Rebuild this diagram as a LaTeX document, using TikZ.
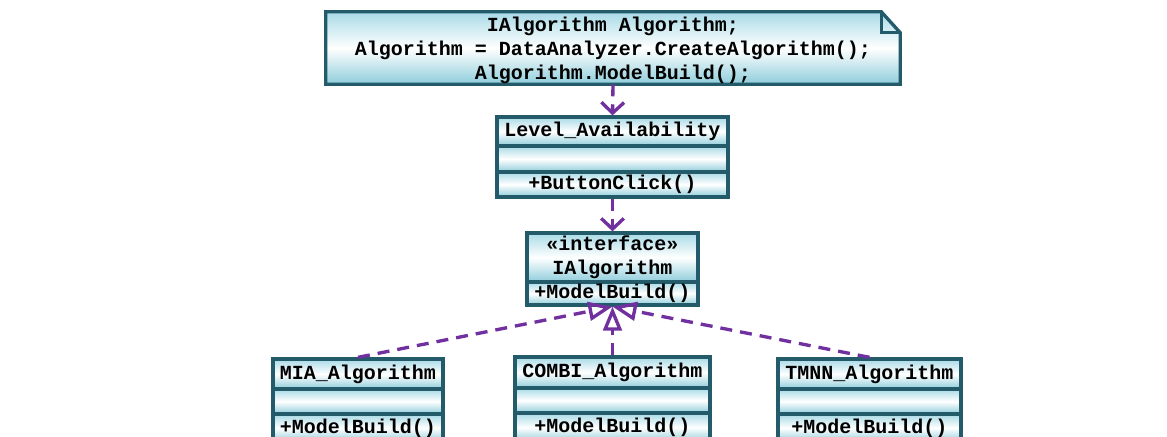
\documentclass[tikz,border=0pt]{standalone}
\usepackage{fontspec}
\setmonofont{Liberation Mono}
\usetikzlibrary{arrows.meta,backgrounds}
\definecolor{bordc}{HTML}{235B6B}
\definecolor{ctop}{HTML}{A8DAE6}
\definecolor{cbot}{HTML}{8ECDDB}
\definecolor{arrc}{HTML}{7030A0}
\tikzset{
  umltext/.style={font=\ttfamily\bfseries\fontsize{15}{18}\selectfont, text=black},
  cmp/.style={umltext, draw=bordc, line width=2.5pt, inner sep=0pt,
    top color=ctop, bottom color=cbot, middle color=white},
  dep/.style={draw=arrc, line width=2.5pt, dash pattern=on 9pt off 6pt,
    -{Straight Barb[length=8pt,width=17pt]}},
  real/.style={draw=arrc, line width=2.5pt, dash pattern=on 9pt off 6pt,
    -{Triangle[open,length=18pt,width=14pt]}}
}
\begin{document}
\begin{tikzpicture}[x=0.75pt,y=-0.75pt]
\useasboundingbox (0,0) rectangle (1167,436);
\clip (0,0) rectangle (1167,436);

% note
\node[minimum width=430.5pt, minimum height=54pt, inner sep=0pt] (note) at (613,48) {};
\node[umltext, align=center, inner sep=0pt] (notetxt) at (613,50.5)
  {IAlgorithm Algorithm;\\Algorithm = DataAnalyzer.CreateAlgorithm();\\Algorithm.ModelBuild();};
\begin{pgfonlayer}{background}
\fill[white] (0,0) rectangle (1167,436);
\path[draw=bordc, line width=2.5pt, line join=miter, top color=ctop, bottom color=cbot, middle color=white]
  (note.north west) -- ([xshift=-14.25pt]note.north east) -- ([yshift=-15.75pt]note.north east)
  -- (note.south east) -- (note.south west) -- cycle;
\end{pgfonlayer}
\draw[draw=bordc, line width=2.5pt] ([xshift=-14.25pt]note.north east) |- ([yshift=-15.75pt]note.north east);

% Level_Availability
\node[cmp, minimum width=173.25pt, minimum height=21.75pt] (la1) at (612.5,131.5) {Level\_Availability};
\node[cmp, minimum width=173.25pt, minimum height=19.5pt] (la2) at (612.5,159) {};
\node[cmp, minimum width=173.25pt, minimum height=18.75pt] (la3) at (612.5,184.5) {+ButtonClick()};

% IAlgorithm
\node[cmp, minimum width=128.25pt, minimum height=36.75pt, align=center] (if1) at (612.5,257.5) {«interface»\\IAlgorithm};
\node[cmp, minimum width=128.25pt, minimum height=17.25pt] (if2) at (612.5,293.5) {+ModelBuild()};

% MIA
\node[cmp, minimum width=127.5pt, minimum height=22.5pt] (mia1) at (358,374) {MIA\_Algorithm};
\node[cmp, minimum width=127.5pt, minimum height=18.75pt] (mia2) at (358,401.5) {};
\node[cmp, minimum width=127.5pt, minimum height=21pt] (mia3) at (358,428) {+ModelBuild()};

% COMBI
\node[cmp, minimum width=146.25pt, minimum height=23.25pt] (co1) at (612.5,372.5) {COMBI\_Algorithm};
\node[cmp, minimum width=146.25pt, minimum height=18.75pt] (co2) at (612.5,400.5) {};
\node[cmp, minimum width=146.25pt, minimum height=21.75pt] (co3) at (612.5,427.5) {+ModelBuild()};

% TMNN
\node[cmp, minimum width=137.25pt, minimum height=22.5pt] (tm1) at (869.5,374) {TMNN\_Algorithm};
\node[cmp, minimum width=137.25pt, minimum height=18.75pt] (tm2) at (869.5,401.5) {};
\node[cmp, minimum width=137.25pt, minimum height=21pt] (tm3) at (869.5,428) {+ModelBuild()};

% connectors
\draw[dep] (note.south) -- (la1.north);
\draw[dep] (la3.south) -- (if1.north);
\draw[real] (mia1.north) -- (if2.south);
\draw[real] (co1.north) -- (if2.south);
\draw[real] (tm1.north) -- (if2.south);
\end{tikzpicture}
\end{document}
